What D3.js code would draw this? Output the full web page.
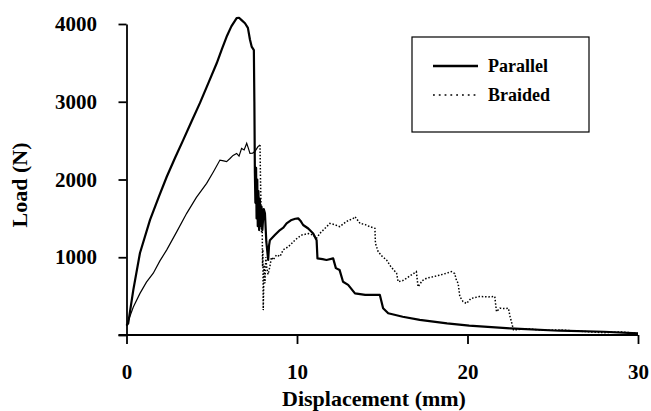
<!DOCTYPE html>
<html>
<head>
<meta charset="utf-8">
<script src="https://cdn.jsdelivr.net/npm/d3@7"></script>
<style>
  body { margin: 0; background: #fff; }
  text { font-family: "Liberation Serif", "Times New Roman", serif; font-weight: bold; fill: #000; }
</style>
</head>
<body>
<script>
var xTicks = [0, 10, 20, 30];
var yTicks = [0, 1000, 2000, 3000, 4000];
var seriesNames = ["Parallel", "Braided"];

// displacement (mm), load (N)
var parallel = [[0,120],[0.1,150],[0.4,580],[0.79,1055],[1.38,1480],[1.9,1780],[2.36,2035],[2.85,2280],
  [3.33,2510],[3.8,2740],[4.31,2985],[4.8,3240],[5.29,3495],[5.6,3680],[5.87,3835],[6.15,3970],[6.46,4075],
  [6.6,4080],[6.75,4050],[6.95,4010],[7.12,3950],[7.24,3800],[7.34,3710],[7.47,3665],[7.5,3000],[7.53,2080],
  [7.56,1700],[7.6,2150],[7.63,1500],[7.67,2000],[7.7,1400],[7.74,1850],[7.78,1350],[7.82,1750],[7.87,1400],
  [7.92,1650],[7.97,1350],[8.05,1620],[8.12,1565],[8.2,1200],[8.31,965],[8.36,1150],[8.41,1220],[8.7,1285],
  [9.0,1350],[9.2,1380],[9.39,1435],[9.68,1480],[9.9,1495],[10.07,1500],[10.2,1470],[10.36,1415],[10.66,1370],
  [10.95,1305],[11.15,1220],[11.2,985],[11.5,975],[11.73,965],[12.12,985],[12.28,860],[12.5,835],[12.7,685],
  [13.0,645],[13.4,535],[14.0,515],[14.86,515],[15.05,345],[15.35,280],[16.2,235],[17.2,195],[18.8,150],
  [20.1,120],[22.5,85],[25.4,55],[28.0,42],[30,20]];

var braided = [[0,120],[0.05,150],[0.4,360],[0.79,535],[1.17,680],[1.57,795],[1.95,950],[2.36,1095],[2.95,1330],
  [3.53,1565],[4.1,1770],[4.7,1950],[5.1,2100],[5.48,2250],[5.7,2240],[5.87,2230],[6.07,2270],[6.25,2310],
  [6.46,2335],[6.6,2300],[6.75,2400],[6.9,2380],[7.05,2465],[7.15,2400],[7.24,2335],[7.4,2340],[7.53,2360],
  [7.7,2420],[7.83,2445],[7.86,1995],[7.92,1310],[7.95,1600],[7.98,880],[8.0,1100],[8.02,320],[8.07,900],
  [8.12,665],[8.17,1000],[8.22,880],[8.3,780],[8.41,880],[8.5,1000],[8.6,965],[8.8,1030],[9.0,1010],[9.19,1095],
  [9.49,1135],[9.7,1180],[9.88,1220],[10.1,1260],[10.27,1285],[10.66,1305],[10.95,1285],[11.15,1245],[11.34,1307],
  [11.54,1350],[11.93,1435],[12.2,1420],[12.5,1393],[12.9,1460],[13.3,1500],[13.4,1522],[13.7,1435],[14.0,1420],
  [14.27,1393],[14.57,1372],[14.6,1180],[14.76,1072],[15.0,1010],[15.25,965],[15.5,880],[15.84,795],[15.93,685],
  [16.2,700],[16.42,730],[17.0,815],[17.1,620],[17.35,700],[17.6,730],[18.0,750],[18.38,770],[18.7,790],
  [19.06,815],[19.25,790],[19.35,705],[19.45,665],[19.55,495],[19.74,430],[19.94,405],[20.2,470],[20.7,495],
  [21.2,490],[21.6,495],[21.7,300],[21.9,345],[22.2,340],[22.4,345],[22.5,235],[22.7,65],[23.5,80],[24.5,60],
  [25.4,65],[26.5,50],[28,30],[29,40],[30,20]];
var braidedBreak = 7.83; // braided trace turns dotted after failure

var margin = {top: 24, right: 13, bottom: 76, left: 126.5},
    w = 651 - margin.left - margin.right,
    h = 411 - margin.top - margin.bottom;

var svg = d3.select("body").append("svg")
    .attr("width", 651).attr("height", 411);
var g = svg.append("g")
    .attr("transform", "translate(" + margin.left + "," + margin.top + ")");

var x = d3.scaleLinear().domain([0, 30]).range([0, w]);
var y = d3.scaleLinear().domain([0, 4000]).range([h, 0]);

/*Axes*/
var xAxis = d3.axisBottom(x).tickValues(xTicks).tickSize(9).tickSizeOuter(0).tickPadding(20);
var yAxis = d3.axisLeft(y).tickValues(yTicks).tickSize(8).tickSizeOuter(0).tickPadding(21.5)
    .tickFormat(function(d){ return d === 0 ? "" : d; });

var gx = g.append("g").attr("transform", "translate(0," + h + ")").call(xAxis);
var gy = g.append("g").call(yAxis);
[gx, gy].forEach(function(a){
  a.attr("font-family", null).attr("font-size", null);
  a.select(".domain").attr("stroke", "#000").attr("stroke-width", 1.8);
  a.selectAll(".tick line").attr("stroke", "#000").attr("stroke-width", 1.8);
  a.selectAll(".tick text").style("font-size", "21px");
});
gx.select(".domain").attr("d", "M-8,0H" + w);

/*Lines*/
var line = d3.line().x(function(d){ return x(d[0]); }).y(function(d){ return y(d[1]); });

g.append("path").datum(braided.filter(function(d){ return d[0] <= braidedBreak; }))
  .attr("d", line).attr("fill", "none").attr("stroke", "#000").attr("stroke-width", 1.2);
g.append("path").datum(braided.filter(function(d){ return d[0] >= braidedBreak; }))
  .attr("d", line).attr("fill", "none").attr("stroke", "#000").attr("stroke-width", 1.5)
  .attr("stroke-dasharray", "1.5,1.8");
g.append("path").datum(parallel)
  .attr("d", line).attr("fill", "none").attr("stroke", "#000").attr("stroke-width", 2.2)
  .attr("stroke-linejoin", "round");

/*Titles*/
svg.append("text").attr("x", 374).attr("y", 406).attr("text-anchor", "middle")
  .style("font-size", "22px").text("Displacement (mm)");
svg.append("text").attr("transform", "translate(27,185) rotate(-90)").attr("text-anchor", "middle")
  .style("font-size", "22px").text("Load (N)");

/*Legend*/
var lg = svg.append("g").attr("transform", "translate(412,37)");
lg.append("rect").attr("width", 177).attr("height", 95)
  .attr("fill", "#fff").attr("stroke", "#000").attr("stroke-width", 1.2);
seriesNames.forEach(function(name, i){
  var yy = 29 + i * 29;
  lg.append("line").attr("x1", 21).attr("x2", 66).attr("y1", yy).attr("y2", yy)
    .attr("stroke", "#000").attr("stroke-width", i === 0 ? 2.4 : 1.6)
    .attr("stroke-dasharray", i === 0 ? null : "1.8,4");
  lg.append("text").attr("x", 76).attr("y", yy + 6).style("font-size", "18px").text(name);
});
</script>
</body>
</html>
